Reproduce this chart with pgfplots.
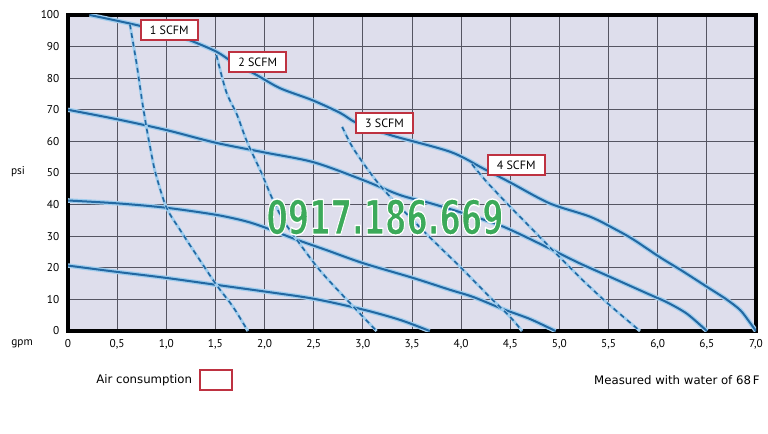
\documentclass[border=0pt]{standalone}
\usepackage{pgfplots}
\pgfplotsset{compat=1.18}
\usepackage{fontspec}
\setmainfont{PT Sans}
\newfontfamily\verd{DejaVu Sans}
\newfontfamily\wmfont{DejaVu Sans}
\definecolor{bg}{RGB}{222,222,236}
\definecolor{gridc}{RGB}{85,85,98}
\definecolor{cblue}{RGB}{34,104,162}
\definecolor{glow}{RGB}{160,205,238}
\definecolor{boxred}{RGB}{190,50,65}
\definecolor{wm}{RGB}{60,170,90}
\newcommand\wmtxt{\scalebox{0.64}[1]{\wmfont\bfseries\fontsize{36}{36}\selectfont\special{pdf:literal direct 2 Tr 1.1 w 1 1 1 RG 1 j}0917.186.669\special{pdf:literal direct 0 Tr}}}
\tikzset{
  hcurve/.style={cblue, line width=1.5pt, smooth, tension=0.5, preaction={draw=glow, line width=3.4pt}},
  dsh/.style={cblue, line width=1.2pt, smooth, tension=0.5, dash pattern=on 3.6pt off 3pt, preaction={draw=glow, line width=2.2pt, solid}},
  scfmbox/.style={draw=boxred, line width=1.5pt, fill=white, minimum width=43pt, minimum height=15pt, inner sep=0pt, font=\fontsize{9}{10}\selectfont},
}
\begin{document}
\begin{tikzpicture}
\path (0,0) rectangle (576pt,324.75pt);
\begin{axis}[
  at={(51pt,76.5pt)}, anchor=south west, scale only axis,
  width=516pt, height=237pt,
  xmin=0, xmax=7, ymin=0, ymax=100,
  xtick={0,0.5,...,7},
  xticklabels={0,{0,5},{1,0},{1,5},{2,0},{2,5},{3,0},{3,5},{4,0},{4,5},{5,0},{5,5},{6,0},{6,5},{7,0}},
  ytick={0,10,...,100},
  yticklabels={0,10,20,30,40,50,60,70,80,90,100},
  axis background/.style={fill=bg},
  grid=major,
  major grid style={gridc, line width=0.7pt},
  axis line style={line width=2.6pt, black},
  major tick length=0pt,
  tick label style={font=\fontsize{8.5}{10}\selectfont},
  yticklabel style={xshift=-3pt},
  xticklabel style={yshift=-3pt},
]
% solid head curves
\addplot[hcurve] coordinates {(0.22,100) (0.63,97.3) (1.0,94.5) (1.24,92) (1.51,88.4) (1.68,85) (1.92,81) (2.16,76.8) (2.49,73) (2.77,69) (2.94,65.8) (3.28,62) (3.89,56.7) (4.22,51.5) (4.5,47) (4.9,40.4) (5.31,36.2) (5.58,32) (5.75,29) (6.02,23.4) (6.25,19) (6.5,14) (6.7,10) (6.84,6.6) (6.93,3) (7.0,0)};
\addplot[hcurve] coordinates {(0,70) (0.5,67) (1.0,63.6) (1.5,59.6) (2.0,56.5) (2.5,53.4) (3.0,47.8) (3.38,43) (3.68,40.5) (4.0,37.5) (4.43,33) (4.9,26.1) (5.2,21.5) (5.51,17.2) (5.92,11.5) (6.1,9) (6.3,5.4) (6.5,0)};
\addplot[hcurve] coordinates {(0,41.3) (0.5,40.4) (1.0,39) (1.5,36.8) (1.8,34.8) (2.0,32.8) (2.3,29.2) (2.63,25.6) (3.0,21.5) (3.51,16.8) (3.89,13) (4.12,10.8) (4.42,7.0) (4.7,3.8) (4.96,0)};
\addplot[hcurve] coordinates {(0,20.7) (0.5,18.7) (1.0,16.8) (1.51,14.6) (2.0,12.5) (2.5,10.2) (3.0,6.8) (3.38,3.5) (3.68,0)};
% dashed air consumption curves
\addplot[dsh] coordinates {(0.63,97) (0.70,84.2) (0.75,73.6) (0.80,64.1) (0.84,57.5) (0.89,50) (1.0,39.2) (1.14,32) (1.34,22.5) (1.51,14.6) (1.68,7.6) (1.83,0)};
\addplot[dsh] coordinates {(1.51,87.3) (1.61,75.7) (1.72,68.4) (1.82,60) (1.97,49.9) (2.07,42.5) (2.19,35.1) (2.33,28.8) (2.56,19.3) (2.84,9.8) (3.14,0)};
\addplot[dsh] coordinates {(2.79,64.6) (2.9,57.9) (3.1,49) (3.28,42.4) (3.68,29.7) (3.99,20.3) (4.29,10.8) (4.5,4.4) (4.62,0)};
\addplot[dsh] coordinates {(4.11,52.8) (4.26,47.2) (4.5,39.3) (4.73,32) (4.95,25) (5.24,16) (5.5,8.5) (5.82,0)};
\node[scfmbox] at (axis cs:1.03,95.3) {1 SCFM};
\node[scfmbox] at (axis cs:1.93,85.1) {2 SCFM};
\node[scfmbox] at (axis cs:3.22,65.8) {3 SCFM};
\node[scfmbox] at (axis cs:4.56,52.5) {4 SCFM};
\end{axis}
% watermark
\node[wm, inner sep=0pt] at (288.75pt,162pt) {\wmtxt};
% outer labels
\node[font=\fontsize{8.5}{10}\selectfont] at (13.5pt,195.75pt) {psi};
\node[font=\fontsize{8.5}{10}\selectfont] at (16.5pt,66.75pt) {gpm};
\node[anchor=west, inner sep=0pt, font=\verd\fontsize{8.8}{10}\selectfont] at (72pt,39.75pt) {Air consumption};
\draw[boxred, line width=1.3pt, fill=white] (150pt,32.25pt) rectangle (174pt,47.25pt);
\node[anchor=east, inner sep=0pt, font=\verd\fontsize{8.8}{10}\selectfont] at (570pt,39.75pt) {Measured with water of 68\,F};
\end{tikzpicture}
\end{document}
